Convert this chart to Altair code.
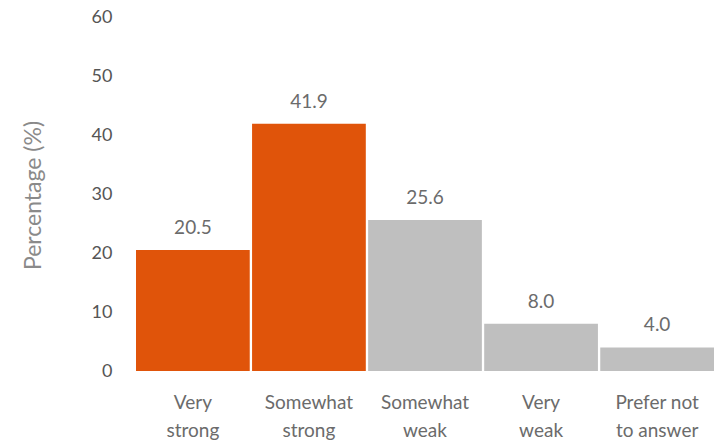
import altair as alt
import pandas as pd

categories = ["Very\nstrong", "Somewhat\nstrong", "Somewhat\nweak", "Very\nweak", "Prefer not\nto answer"]
values = [20.5, 41.9, 25.6, 8.0, 4.0]
groups = ["strong", "strong", "weak", "weak", "weak"]
labels = ["20.5", "41.9", "25.6", "8.0", "4.0"]

df = pd.DataFrame({"cat": categories, "val": values, "grp": groups, "lab": labels})

FONT = "Lato"

x = alt.X("cat:N", sort=categories, title=None,
          scale=alt.Scale(paddingInner=0.02, paddingOuter=0),
          axis=alt.Axis(labelExpr="split(datum.label, '\\n')", labelAngle=0,
                        domain=False, ticks=False, labelPadding=31,
                        labelFontSize=19, labelColor="#6b6b6b", labelFont=FONT,
                        labelLineHeight=28, labelBaseline="middle"))

y = alt.Y("val:Q", title="Percentage (%)",
          scale=alt.Scale(domain=[0, 60], nice=False),
          axis=alt.Axis(values=[0, 10, 20, 30, 40, 50, 60], grid=False, domain=False,
                        ticks=False, labelPadding=24, labelFontSize=18,
                        labelColor="#555555", labelFont=FONT,
                        titleFont=FONT, titleFontSize=23, titleFontWeight="normal",
                        titleColor="#8a8a8a", titleAngle=-90, titleX=-103, titleY=178,
                        titleAlign="center", titleBaseline="middle"))

bars = alt.Chart(df).mark_bar().encode(
    x=x, y=y,
    color=alt.Color("grp:N", scale=alt.Scale(domain=["strong", "weak"], range=["#e0540a", "#bfbfbf"]), legend=None),
)

text = alt.Chart(df).mark_text(baseline="bottom", dy=-12, fontSize=19, font=FONT, color="#6b6b6b").encode(
    x=alt.X("cat:N", sort=categories), y="val:Q", text="lab:N"
)

chart = (bars + text).properties(
    width=578, height=354,
    padding={"left": 136, "top": 17, "right": 6, "bottom": 72},
    autosize=alt.AutoSizeParams(type="none"),
    background="white",
).configure_view(stroke=None, strokeWidth=0)

chart.save("out.html", embed_options={"renderer": "svg", "actions": False})
